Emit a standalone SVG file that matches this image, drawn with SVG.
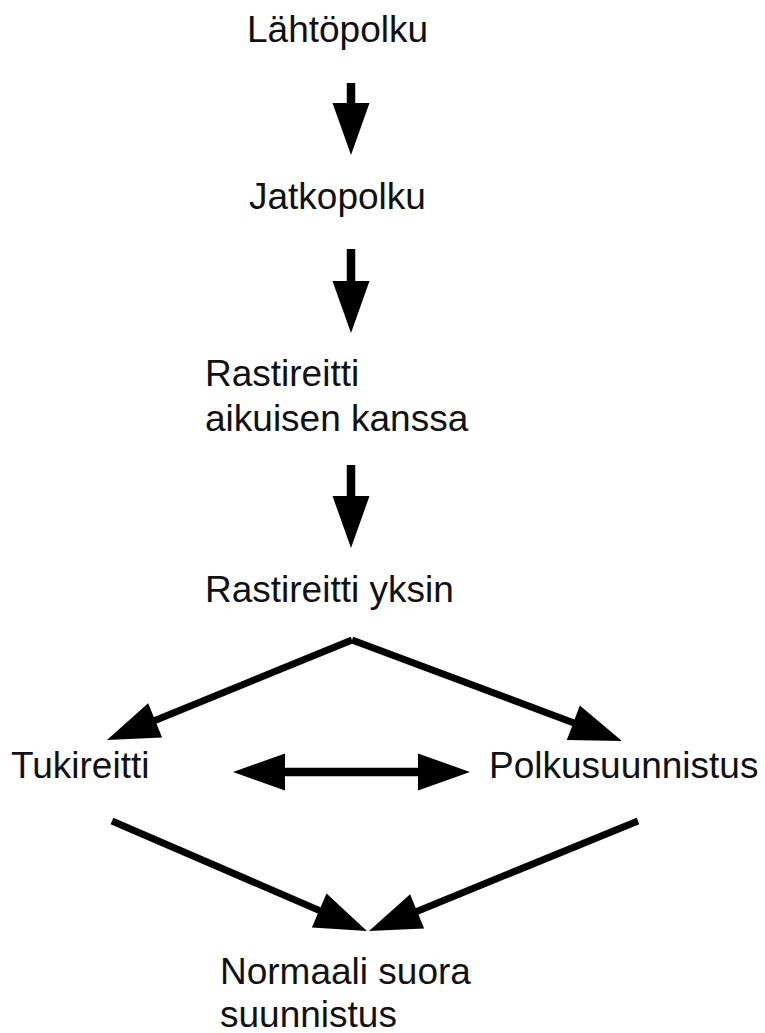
<svg xmlns="http://www.w3.org/2000/svg" width="765" height="1033" viewBox="0 0 765 1033">
<style>
.t{font-family:"Liberation Sans",Arial,sans-serif;font-size:37px;fill:#111}
.c{stroke:#000;fill:none}
.v{stroke-width:8.5}
.d{stroke-width:7}
</style>
<defs>
<marker id="ah" markerUnits="userSpaceOnUse" markerWidth="60" markerHeight="40" orient="auto-start-reverse" overflow="visible" refX="0" refY="0">
<path d="M20,0 L-32,-18.5 L-32,18.5 Z" fill="#000"/>
</marker>
</defs>
<rect width="765" height="1033" fill="#fff"/>
<g id="n1"><text class="t" x="247" y="42">Lähtöpolku</text></g>
<g id="n2"><text class="t" x="249" y="209">Jatkopolku</text></g>
<g id="n3"><text class="t" x="205" y="386">Rastireitti</text><text class="t" x="205" y="431">aikuisen kanssa</text></g>
<g id="n4"><text class="t" x="205" y="602">Rastireitti yksin</text></g>
<g id="n5"><text class="t" x="11" y="778">Tukireitti</text></g>
<g id="n6"><text class="t" x="489" y="778">Polkusuunnistus</text></g>
<g id="n7"><text class="t" x="220" y="984">Normaali suora</text><text class="t" x="220" y="1027">suunnistus</text></g>
<g id="connectors">
<line class="c v" x1="351" y1="83" x2="351" y2="135" marker-end="url(#ah)"/>
<line class="c v" x1="351" y1="249" x2="351" y2="313" marker-end="url(#ah)"/>
<line class="c v" x1="351" y1="465" x2="351" y2="528" marker-end="url(#ah)"/>
<line class="c d" x1="352" y1="640" x2="125.5" y2="732.4" marker-end="url(#ah)"/>
<line class="c d" x1="352" y1="640" x2="603.3" y2="734" marker-end="url(#ah)"/>
<line class="c v" x1="253" y1="772" x2="450" y2="772" marker-start="url(#ah)" marker-end="url(#ah)"/>
<line class="c d" x1="112" y1="821" x2="348.6" y2="923.1" marker-end="url(#ah)"/>
<line class="c d" x1="638" y1="821" x2="387.5" y2="923.4" marker-end="url(#ah)"/>
</g>
</svg>
